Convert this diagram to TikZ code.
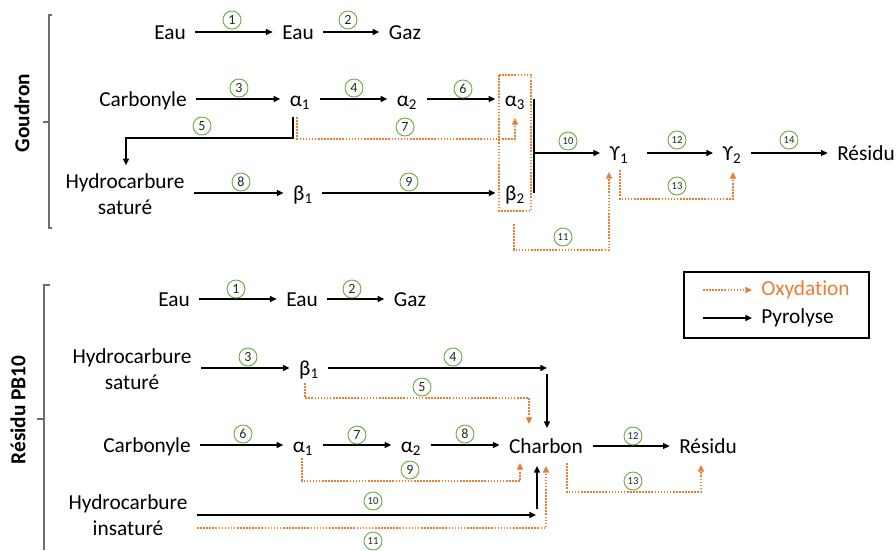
\documentclass[tikz,border=0pt]{standalone}
\usepackage{fontspec}
\setmainfont{Carlito}[Ligatures=NoCommon]
\usetikzlibrary{arrows.meta,calc}
\definecolor{ogreen}{RGB}{112,173,71}
\definecolor{oorange}{RGB}{237,125,49}
\definecolor{bgray}{RGB}{110,110,110}
\tikzset{
  lbl/.style={font=\fontsize{16}{19}\selectfont, inner xsep=7pt, inner ysep=0pt, text height=14pt, text depth=3.5pt},
  lbltwo/.style={font=\fontsize{16}{19.5}\selectfont, inner xsep=7pt, inner ysep=0pt, align=center},
  pyro/.style={draw=black, line width=1.1pt, -{Triangle[length=5pt,width=4.5pt]}},
  oxy/.style={draw=oorange, line width=1.2pt, dash pattern=on 1.2pt off 1.1pt, -{Triangle[length=5pt,width=4.5pt,fill=oorange]}},
  oxybox/.style={draw=oorange, line width=1.2pt, dash pattern=on 1.2pt off 1.1pt},
  num/.style={circle, draw=ogreen, line width=0.7pt, inner sep=0pt, minimum size=13.5pt, text=black!85, font=\fontsize{10.5}{10.5}\selectfont},
  numb/.style={num, font=\fontsize{8}{8}\selectfont},
  sect/.style={rotate=90, font=\fontsize{16}{16}\selectfont\bfseries},
  brk/.style={draw=bgray, line width=0.9pt},
  leg/.style={font=\fontsize{16}{19}\selectfont, inner sep=0pt, anchor=west},
}
\begin{document}
\begin{tikzpicture}[x=0.75pt,y=-0.75pt]
\useasboundingbox (0,0) rectangle (896,550);
% ---------- Goudron ----------
\node[sect] (sg) at (22,113) {Goudron};
\draw[brk] (52,15) -- (49,15) -- (49,228) -- (52,228);
\draw[brk] (43,122) -- (49,122);

\node[lbl] (e1) at (170,32) {Eau};
\node[lbl] (e2) at (298,32) {Eau};
\node[lbl] (g1) at (405,32) {Gaz};
\draw[pyro] (e1.east) -- (e2.west);
\draw[pyro] (e2.east) -- (g1.west);
\node[num] (n1) at (232,20) {1};
\node[num] (n2) at (348,20) {2};

\node[lbl] (c1) at (143,99) {Carbonyle};
\node[lbl] (a1) at (300,99) {α\textsubscript{1}};
\node[lbl] (a2) at (407,99) {α\textsubscript{2}};
\node[lbl] (a3) at (515,99) {α\textsubscript{3}};
\draw[pyro] (c1.east) -- (a1.west);
\draw[pyro] (a1.east) -- (a2.west);
\draw[pyro] (a2.east) -- (a3.west);
\node[num] (n3) at (239,88) {3};
\node[num] (n4) at (354,88) {4};
\node[num] (n6) at (463,89) {6};

\node[lbltwo] (h1) at (125,194) {Hydrocarbure\\saturé};
\node[lbl] (b1) at (303,193) {β\textsubscript{1}};
\node[lbl] (b2) at (515,193) {β\textsubscript{2}};
\draw[pyro] (h1.east |- b1) -- (b1.west);
\draw[pyro] (b1.east) -- (b2.west);
\node[num] (n8) at (241,182) {8};
\node[num] (n9) at (409,182) {9};

% 5 and 7
\draw[pyro] ($(a1.south)+(-7,6)$) -- ++(0,21) -| ($(h1.north)+(1,-8)$);
\node[num] (n5) at (202,126) {5};
\draw[oxy] ($(a1.south)+(-3,6)$) -- ++(0,22) -| ($(a3.south)+(0,7)$);
\node[num] (n7) at (405,127) {7};

% box and bar
\draw[oxybox] (499,75) rectangle (531,211);
\draw[line width=1.3pt] (534,99) -- (534,193);
\coordinate (bar) at (534,153);

\node[lbl] (y1) at (619,153) {ϒ\textsubscript{1}};
\node[lbl] (y2) at (732,153) {ϒ\textsubscript{2}};
\node[lbl] (r1) at (866,153) {Résidu};
\draw[pyro] (bar) -- (y1.west);
\draw[pyro] ($(y1.east)+(9,0)$) -- (y2.west);
\draw[pyro] (y2.east) -- (r1.west);
\node[numb] (n10) at (568,141) {10};
\node[numb] (n12) at (677,140) {12};
\node[numb] (n14) at (789,140) {14};

\draw[oxy] ($(b2.south)+(-1,19)$) -- ++(0,26) -| ($(y1.south)+(-10,7)$);
\node[numb] (n11) at (563,237) {11};
\draw[oxy] ($(y1.south)+(1,5)$) -- ++(0,29) -| ($(y2.south)+(1,7)$);
\node[numb] (n13) at (677,186) {13};

% ---------- Residu PB10 ----------
\node[sect] (sr) at (18,410) {Résidu PB10};
\draw[brk] (50,285) -- (44,285) -- (44,550);
\draw[brk] (37,419) -- (44,419);

\node[lbl] (f1) at (174,299) {Eau};
\node[lbl] (f2) at (302,299) {Eau};
\node[lbl] (g2) at (410,299) {Gaz};
\draw[pyro] (f1.east) -- (f2.west);
\draw[pyro] (f2.east) -- (g2.west);
\node[num] (m1) at (236,289) {1};
\node[num] (m2) at (352,289) {2};

\node[lbltwo] (h2) at (132,369) {Hydrocarbure\\saturé};
\node[lbl] (bb1) at (309,368) {β\textsubscript{1}};
\coordinate (c4) at (547,368);
\draw[pyro] (h2.east |- bb1) -- (bb1.west);
\node[num] (m3) at (248,357) {3};

\node[lbl] (c2) at (147,445) {Carbonyle};
\node[lbl] (ba1) at (303,445) {α\textsubscript{1}};
\node[lbl] (ba2) at (411,445) {α\textsubscript{2}};
\node[lbl] (ch) at (546,446) {Charbon};
\node[lbl] (r2) at (708,446) {Résidu};
\draw[pyro] (c2.east) -- (ba1.west);
\draw[pyro] (ba1.east) -- (ba2.west);
\draw[pyro] (ba2.east) -- (ch.west |- ba2);
\draw[pyro] (ch.east) -- (r2.west);
\node[num] (m6) at (243,434) {6};
\node[num] (m7) at (357,435) {7};
\node[num] (m8) at (465,434) {8};
\node[numb] (m12) at (633,436) {12};

\draw[pyro] (bb1.east) -- (c4);
\draw[pyro] ($(c4)+(0,6)$) -- ($(ch.north)+(1,-6)$);
\node[num] (m4) at (453,357) {4};
\draw[oxy] ($(bb1.south)+(-4,3)$) -- ++(0,15) -| ($(ch.north)+(-17,-10)$);
\node[num] (m5) at (422,387) {5};

\draw[oxy] ($(ba1.south)+(-1,1)$) -- ++(0,23) -| ($(ch.south)+(-26,5)$);
\node[num] (m9) at (410,470) {9};
\draw[oxy] ($(ch.south)+(21,5)$) -- ++(0,29) -| ($(r2.south)+(-7,7)$);
\node[numb] (m13) at (633,481) {13};

\node[lbltwo] (h3) at (128,515) {Hydrocarbure\\insaturé};
\coordinate (c10) at (536,515);
\draw[pyro] (h3.east) -- (c10);
\draw[pyro] ($(c10)+(1,-6)$) -- ($(ch.south)+(-9,8)$);
\node[numb] (m10) at (373,501) {10};
\draw[oxy] ($(h3.east)+(0,13)$) -| ($(ch.south)+(0,8)$);
\node[numb] (m11) at (373,541) {11};

% ---------- legend ----------
\draw[line width=1.1pt] (684,272) rectangle (869,338);
\node[leg, text=oorange] (lo) at (761,290) {Oxydation};
\node[leg] (lp) at (761,318) {Pyrolyse};
\draw[oxy] ($(lo.west)+(-58,0)$) -- ($(lo.west)+(-9,0)$);
\draw[pyro] ($(lp.west)+(-58,0)$) -- ($(lp.west)+(-9,0)$);
\end{tikzpicture}
\end{document}
